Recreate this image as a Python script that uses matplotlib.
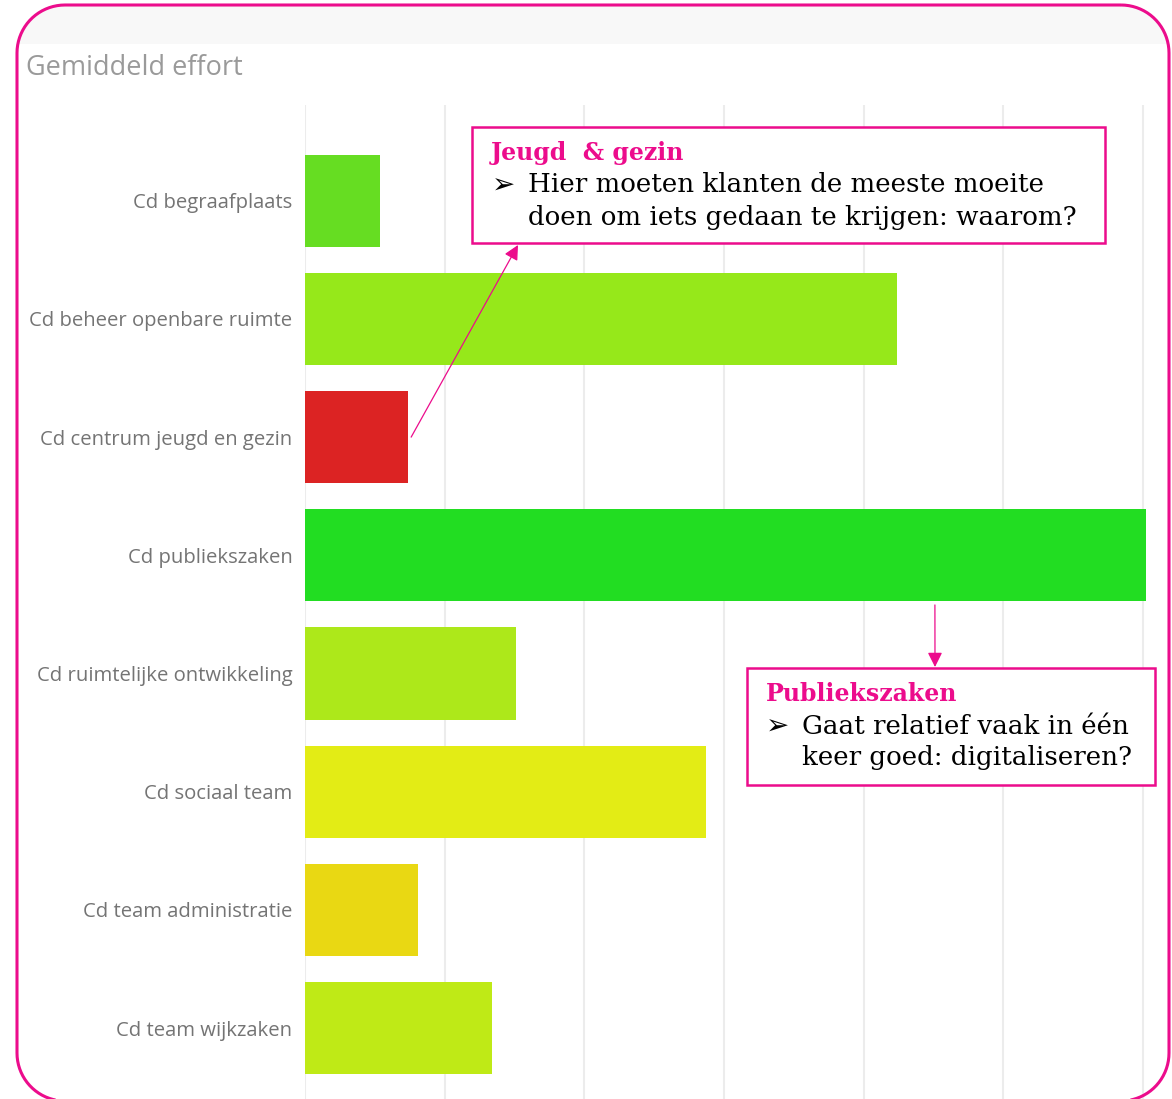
import numpy as np
import matplotlib.pyplot as plt
from matplotlib.patches import Rectangle, Polygon

categories = ['Cd begraafplaats', 'Cd beheer openbare ruimte', 'Cd centrum jeugd en gezin',
              'Cd publiekszaken', 'Cd ruimtelijke ontwikkeling', 'Cd sociaal team',
              'Cd team administratie', 'Cd team wijkzaken']
effort = [0.54, 4.24, 0.74, 6.02, 1.51, 2.87, 0.81, 1.34]
bar_colors = ['#66dd22', '#96e81a', '#dc2323', '#22dd22', '#ade81a', '#e3ec15', '#e9d813', '#bfea16']
grid_ticks = [0, 1, 2, 3, 4, 5, 6]

W, H = 1172, 1099
MAGENTA = '#ec0c8c'
SERIF = ['DejaVu Serif', 'DejaVu Sans']


def roundedFrame(x0, y0, x1, y1, r, n=20):
    # outline of a rounded rectangle in pixel units (y grows downwards)
    pts = []
    corners = [(x1 - r, y0 + r, -90, 0), (x1 - r, y1 - r, 0, 90),
               (x0 + r, y1 - r, 90, 180), (x0 + r, y0 + r, 180, 270)]
    for cx, cy, a0, a1 in corners:
        t = np.radians(np.linspace(a0, a1, n))
        pts += list(zip(cx + r * np.cos(t), cy + r * np.sin(t)))
    return np.array(pts)


fig = plt.figure(figsize=(W / 100, H / 100), dpi=100)

# bar chart
ax = fig.add_axes([305 / W, 0, 845 / W, 1 - 105 / H])
y = list(range(len(categories)))
ax.barh(y, effort, height=0.78, color=bar_colors, zorder=2)
ax.set_xlim(0, 6.05)
ax.set_ylim(7.6, -0.81)
ax.set_xticks(grid_ticks)
ax.xaxis.grid(True, color='#ececec', lw=1.5, zorder=0)
ax.tick_params(axis='x', length=0, labelbottom=False)
ax.set_yticks(y)
ax.set_yticklabels(categories, fontsize=14.6, color='#747474', family='Open Sans')
ax.tick_params(axis='y', length=0, pad=9)
for s in ax.spines.values():
    s.set_visible(False)

# overlay in pixel units for the frame, title and callouts
ov = fig.add_axes([0, 0, 1, 1], zorder=5)
ov.set_xlim(0, W)
ov.set_ylim(H, 0)
ov.axis('off')
ov.patch.set_alpha(0)

outline = roundedFrame(17, 5, 1169, 1101, 48)
band = Polygon(outline, closed=True, facecolor='#f8f8f8', edgecolor='none', zorder=0)
ov.add_patch(band)
band.set_clip_path(Rectangle((0, 0), W, 44, transform=ov.transData))
ov.add_patch(Polygon(outline, closed=True, facecolor='none', edgecolor=MAGENTA,
                     lw=2.2, zorder=10, clip_on=False))

ov.text(26, 68, 'Gemiddeld effort', fontsize=19.5, color='#9a9a9a', va='center',
        family='Open Sans')

# callout: jeugd & gezin
ov.add_patch(Rectangle((472, 127), 633, 116, facecolor='white', edgecolor=MAGENTA, lw=1.8, zorder=3))
ov.text(491, 153, 'Jeugd  & gezin', fontsize=17, fontweight='bold', color=MAGENTA,
        va='center', family=SERIF, zorder=4)
ov.text(492, 186, '\u27a2', fontsize=20, color='black', va='center', family=SERIF, zorder=4)
ov.text(528, 185, 'Hier moeten klanten de meeste moeite', fontsize=18.8, va='center',
        family=SERIF, zorder=4)
ov.text(528, 217, 'doen om iets gedaan te krijgen: waarom?', fontsize=18.8, va='center',
        family=SERIF, zorder=4)
ov.annotate('', xy=(518, 245), xycoords='data',
            xytext=(effort[2] + 0.02, 2), textcoords=ax.transData,
            arrowprops=dict(arrowstyle='-|>', color=MAGENTA, lw=0.9,
                            mutation_scale=22, shrinkA=0, shrinkB=0), zorder=4)

# callout: publiekszaken
ov.add_patch(Rectangle((747, 668), 408, 117, facecolor='white', edgecolor=MAGENTA, lw=1.8, zorder=3))
ov.text(766, 694, 'Publiekszaken', fontsize=17, fontweight='bold', color=MAGENTA,
        va='center', family=SERIF, zorder=4)
ov.text(766, 727, '\u27a2', fontsize=20, color='black', va='center', family=SERIF, zorder=4)
ov.text(802, 726, 'Gaat relatief vaak in één', fontsize=18.8, va='center',
        family=SERIF, zorder=4)
ov.text(802, 758, 'keer goed: digitaliseren?', fontsize=18.8, va='center',
        family=SERIF, zorder=4)
ov.annotate('', xy=(935, 667), xycoords='data',
            xytext=(4.51, 3.42), textcoords=ax.transData,
            arrowprops=dict(arrowstyle='-|>', color=MAGENTA, lw=0.9,
                            mutation_scale=22, shrinkA=0, shrinkB=0), zorder=4)

fig.savefig('out.png', dpi=100)
